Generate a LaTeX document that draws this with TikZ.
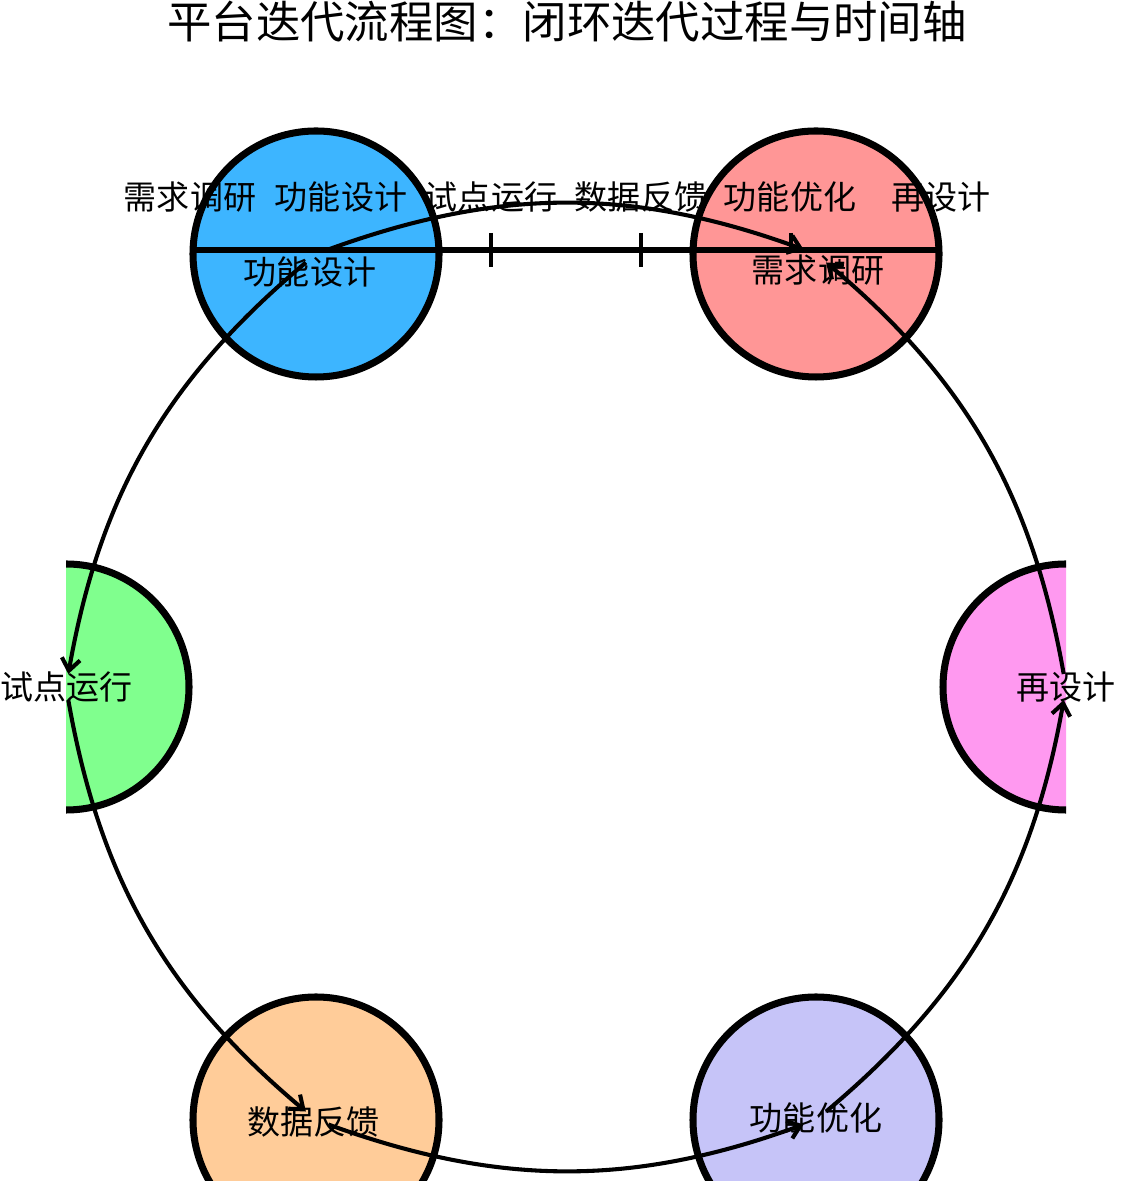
\documentclass[tikz,border=0pt]{standalone}
\usepackage{fontspec}
\setmainfont{Noto Sans CJK SC}
\usepackage{xcolor}
\usepackage{tikz}
\usetikzlibrary{arrows.meta}
\definecolor{kblue}{HTML}{3DB5FF}
\definecolor{kred}{HTML}{FF9696}
\definecolor{kgreen}{HTML}{80FF8E}
\definecolor{kpink}{HTML}{FF99F0}
\definecolor{korange}{HTML}{FFCC99}
\definecolor{kpurple}{HTML}{C6C4F8}

\begin{document}
\begin{tikzpicture}[x=1cm, y=1cm,
  stage/.style={circle, draw=black, line width=5pt, minimum size=6.15cm, inner sep=0pt},
  lbl/.style={font=\fontsize{23.5}{26}\selectfont, inner sep=0pt},
  flow/.style={line width=2.9pt, -{Straight Barb[length=3mm,width=4.6mm]},
    shorten <=0.33cm, shorten >=0.33cm}]
\useasboundingbox (0,0) rectangle (28.025,29.525);
\node[font=\fontsize{31.6}{34}\selectfont, inner sep=0pt] (title) at (14.175,28.975)
  {平台迭代流程图：闭环迭代过程与时间轴};
\begin{scope}
\clip (1.65,0) rectangle (26.65,29.525);
\node[stage, fill=kred] (nsurvey) at (20.4,23.175) {};
\node[stage, fill=kblue] (ndesign) at (7.9,23.175) {};
\node[stage, fill=kgreen] (npilot) at (1.65,12.35) {};
\node[stage, fill=korange] (nfeedback) at (7.9,1.525) {};
\node[stage, fill=kpurple] (noptim) at (20.4,1.525) {};
\node[stage, fill=kpink] (nredesign) at (26.65,12.35) {};
\end{scope}
\draw[line width=4.6pt] (4.775,23.275) -- (23.525,23.275);
\foreach \x in {12.275,16.025}
  \draw[line width=2.2pt] (\x,23.7) -- (\x,22.85);
\draw[line width=2.2pt] (19.775,23.7) -- (19.775,23.275);
\draw[flow] (ndesign.center) to[bend left=20] (nsurvey.center);
\draw[flow] (ndesign.center) to[bend right=20] (npilot.center);
\draw[flow] (npilot.center) to[bend right=20] (nfeedback.center);
\draw[flow] (nfeedback.center) to[bend right=20] (noptim.center);
\draw[flow] (noptim.center) to[bend right=20] (nredesign.center);
\draw[flow] (nredesign.center) to[bend right=20] (nsurvey.center);
\foreach \x/\t [count=\i] in {4.75/需求调研, 8.525/功能设计, 12.275/试点运行,
    16.025/数据反馈, 19.75/功能优化, 23.525/再设计}
  \node[lbl] (tl\i) at (\x,24.6) {\t};
\node[lbl] (lsurvey) at (20.45,22.775) {需求调研};
\node[lbl] (ldesign) at (7.75,22.725) {功能设计};
\node[lbl] (lpilot) at (1.66,12.35) {试点运行};
\node[lbl] (lfeedback) at (7.83,1.475) {数据反馈};
\node[lbl] (loptim) at (20.4,1.575) {功能优化};
\node[lbl] (lredesign) at (26.65,12.35) {再设计};
\end{tikzpicture}
\end{document}
